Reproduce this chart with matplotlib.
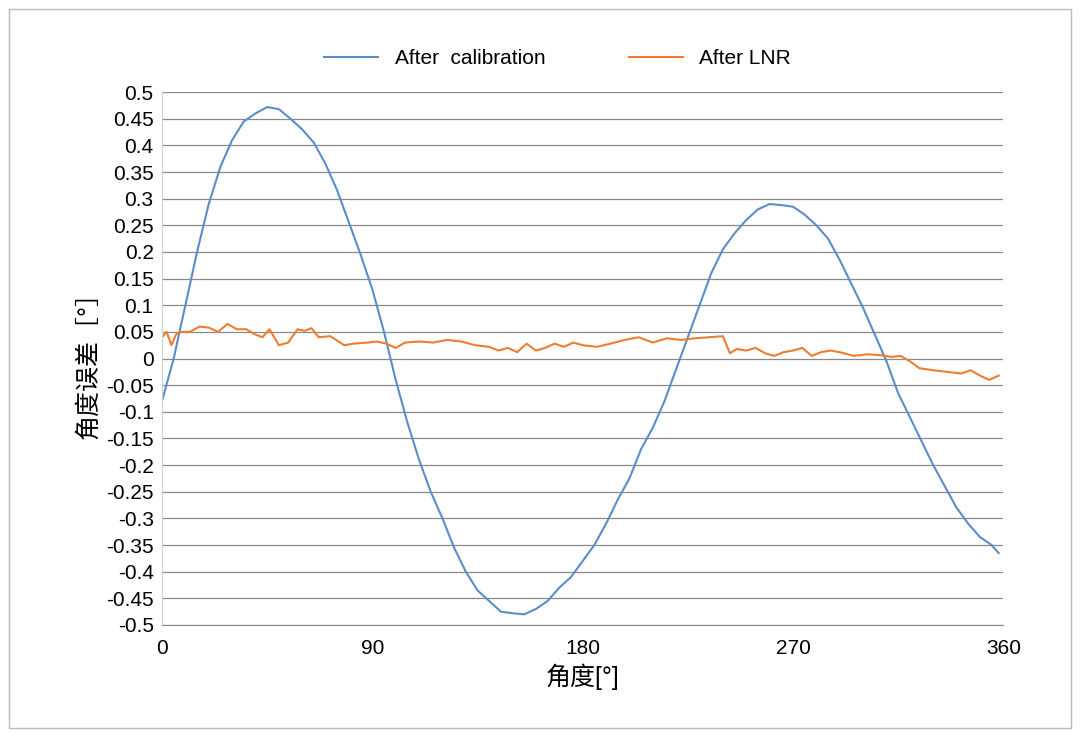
import matplotlib
matplotlib.use('Agg')
import matplotlib.pyplot as plt
import numpy as np

plt.rcParams['font.family'] = ['Liberation Sans', 'Noto Sans CJK SC', 'DejaVu Sans']

# After calibration (blue)
cal_deg = [0, 5, 10, 15, 20, 25, 30, 35, 40, 45, 50, 55, 60, 65, 70, 75, 80, 85, 90,
           95, 100, 105, 110, 115, 120, 125, 130, 135, 140, 145, 150, 155, 160, 165,
           170, 175, 180, 185, 190, 195, 200, 205, 210, 215, 220, 225, 230, 235, 240,
           245, 250, 255, 260, 265, 270, 275, 280, 285, 290, 295, 300, 305, 310, 315,
           320, 325, 330, 335, 340, 345, 350, 355, 358]
cal_err = [-0.08, 0.0, 0.1, 0.2, 0.29, 0.36, 0.41, 0.445, 0.46, 0.472, 0.468, 0.45, 0.43,
           0.405, 0.365, 0.315, 0.255, 0.195, 0.13, 0.05, -0.04, -0.12, -0.19, -0.25,
           -0.3, -0.355, -0.4, -0.435, -0.455, -0.475, -0.478, -0.48, -0.47, -0.455,
           -0.43, -0.41, -0.38, -0.35, -0.31, -0.265, -0.225, -0.17, -0.13, -0.08,
           -0.02, 0.04, 0.1, 0.16, 0.205, 0.235, 0.26, 0.28, 0.29, 0.288, 0.285, 0.27,
           0.25, 0.225, 0.185, 0.14, 0.095, 0.045, -0.005, -0.065, -0.11, -0.155, -0.2,
           -0.24, -0.28, -0.31, -0.335, -0.35, -0.365]

# After LNR (orange)
lnr_deg = [0, 2, 4, 6, 8, 12, 16, 20, 24, 28, 32, 36, 40, 43, 46, 50, 54, 58, 61, 64,
           67, 72, 78, 82, 88, 92, 96, 100, 104, 110, 116, 122, 128, 134, 140, 144,
           148, 152, 156, 160, 164, 168, 172, 176, 180, 186, 192, 198, 204, 210, 216,
           222, 228, 234, 240, 243, 246, 250, 254, 258, 262, 266, 270, 274, 278, 282,
           286, 290, 296, 302, 308, 312, 316, 320, 324, 330, 336, 342, 346, 350, 354,
           358]
lnr_err = [0.04, 0.05, 0.025, 0.045, 0.05, 0.05, 0.06, 0.058, 0.05, 0.065, 0.055, 0.055,
           0.045, 0.04, 0.055, 0.025, 0.03, 0.055, 0.052, 0.057, 0.04, 0.042, 0.025,
           0.028, 0.03, 0.032, 0.028, 0.02, 0.03, 0.032, 0.03, 0.035, 0.032, 0.025,
           0.022, 0.015, 0.02, 0.012, 0.028, 0.015, 0.02, 0.028, 0.022, 0.03, 0.025,
           0.022, 0.028, 0.035, 0.04, 0.03, 0.038, 0.035, 0.038, 0.04, 0.042, 0.01,
           0.018, 0.015, 0.02, 0.01, 0.005, 0.012, 0.015, 0.02, 0.005, 0.012, 0.015,
           0.012, 0.005, 0.008, 0.006, 0.003, 0.005, -0.005, -0.018, -0.022, -0.025,
           -0.028, -0.022, -0.032, -0.04, -0.032]

fig = plt.figure(figsize=(10.8, 7.37), dpi=100)
fig.patches.append(plt.Rectangle((0.008, 0.012), 0.984, 0.976, transform=fig.transFigure,
                                 fill=False, edgecolor='#bbbbbb', linewidth=1))
ax = fig.add_axes([0.15, 0.152, 0.779, 0.723])

ax.plot(cal_deg, cal_err, color='#5b8ec9', linewidth=1.5, label='After  calibration')
ax.plot(lnr_deg, lnr_err, color='#ed7d31', linewidth=1.5, label='After LNR')

ax.set_xlim(0, 360)
ax.set_ylim(-0.5, 0.5)
ax.set_xticks([0, 90, 180, 270, 360])
yt = np.round(np.arange(-0.5, 0.501, 0.05), 2)
ax.set_yticks(yt)
ax.set_yticklabels([f'{v:g}' if v != 0 else '0' for v in yt])
ax.grid(axis='y', color='#8a8a8a', linewidth=0.9)
ax.set_axisbelow(True)
for s in ['top', 'right']:
    ax.spines[s].set_visible(False)
ax.spines['left'].set_color('#d0d0d0')
ax.spines['bottom'].set_color('#8a8a8a')
ax.tick_params(length=0, labelsize=15, pad=6)
ax.tick_params(axis='x', pad=10)

ax.set_xlabel('角度[°]', fontsize=18)
ax.set_ylabel('角度误差［°］', fontsize=18)

ax.legend(loc='lower center', bbox_to_anchor=(0.47, 1.01), ncol=2, frameon=False,
          fontsize=15, columnspacing=4, handlelength=2.6)

fig.savefig('out.png', dpi=100)
